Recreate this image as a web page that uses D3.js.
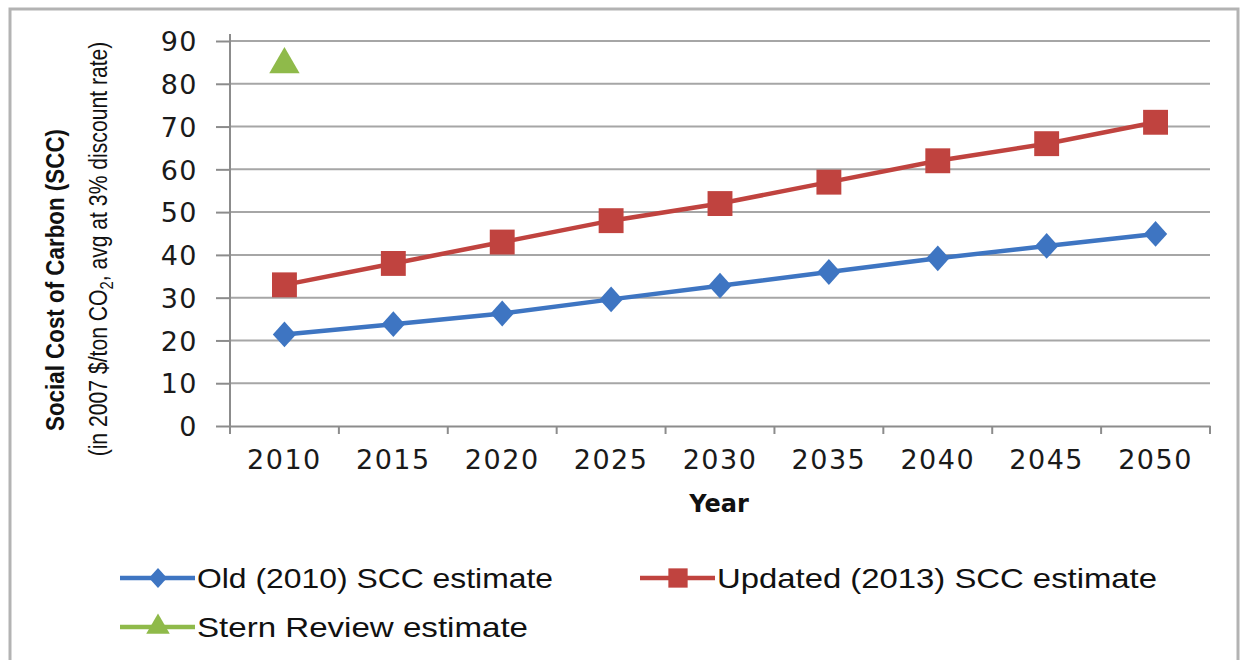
<!DOCTYPE html>
<meta charset="utf-8">
<style>
    body { margin: 0; background: #fff; }
    .grid line { stroke: #a6a6a6; stroke-width: 2; }
    .axis path, .axis line { stroke: #8c8c8c; stroke-width: 2; }
    .axis text { font-family: "DejaVu Sans", Verdana, sans-serif; font-size: 27px; letter-spacing: 1.5px; fill: #1a1a1a; }
    .ttl { font-family: "Liberation Sans", sans-serif; fill: #111; }
    .legend text { font-family: "Liberation Sans", sans-serif; font-size: 28px; fill: #111; }
</style>

<svg width="1248" height="660"></svg>

<script src="https://d3js.org/d3.v7.min.js"></script>
<script>
var years = [2010, 2015, 2020, 2025, 2030, 2035, 2040, 2045, 2050];
var oldScc = [21.4, 23.8, 26.3, 29.6, 32.8, 36.0, 39.2, 42.1, 44.9];
var newScc = [33, 38, 43, 48, 52, 57, 62, 66, 71];
var stern = [84.5];
var yTicks = [0, 10, 20, 30, 40, 50, 60, 70, 80, 90];
var seriesNames = ["Old (2010) SCC estimate", "Updated (2013) SCC estimate", "Stern Review estimate"];

var svg = d3.select("svg");

// outer frame
svg.append("rect").attr("x", 10).attr("y", 9).attr("width", 1228).attr("height", 700)
    .attr("fill", "none").attr("stroke", "#b3b3b3").attr("stroke-width", 3);

var x = d3.scaleBand().domain(years).range([230, 1210]);
var y = d3.scaleLinear().domain([0, 90]).range([426, 41]);

svg.append("g").attr("class", "grid")
    .selectAll("line").data(yTicks.slice(1)).enter().append("line")
    .attr("x1", 230).attr("x2", 1210)
    .attr("y1", function(d) { return y(d); }).attr("y2", function(d) { return y(d); });

var ya = svg.append("g").attr("class", "axis")
    .attr("transform", "translate(230,0)")
    .call(d3.axisLeft(y).tickValues(yTicks).tickSize(14).tickSizeOuter(0).tickPadding(18));
ya.selectAll("text").attr("dy", "0.36em");
ya.select(".domain").attr("d", "M0,426V34");

var xa = svg.append("g").attr("class", "axis")
    .attr("transform", "translate(0,426)")
    .call(d3.axisBottom(x).tickSize(0).tickPadding(24));
// ticks at band boundaries
xa.selectAll(".bnd").data(years.concat([null])).enter().append("line")
    .attr("x1", function(d, i) { return 230 + i * x.step(); })
    .attr("x2", function(d, i) { return 230 + i * x.step(); })
    .attr("y1", 0).attr("y2", 8)
    .attr("stroke", "#8c8c8c").attr("stroke-width", 2);

svg.append("text").attr("x", 719).attr("y", 512)
    .attr("text-anchor", "middle")
    .style("font-family", "'DejaVu Sans', Verdana, sans-serif")
    .attr("font-weight", "bold").attr("font-size", 24).attr("fill", "#111").text("Year");

// y title
var yt = svg.append("g").attr("transform", "rotate(-90)");
yt.append("text").attr("class", "ttl").attr("x", -280).attr("y", 64).attr("text-anchor", "middle")
    .attr("font-weight", "bold").attr("font-size", 26)
    .attr("textLength", 302).attr("lengthAdjust", "spacingAndGlyphs")
    .text("Social Cost of Carbon (SCC)");
var t2 = yt.append("text").attr("class", "ttl").attr("x", -249).attr("y", 107).attr("text-anchor", "middle")
    .attr("font-size", 26);
t2.append("tspan").text("(in 2007 $/ton CO");
t2.append("tspan").attr("font-size", 18).attr("dy", 6).text("2");
t2.append("tspan").attr("dy", -6).text(", avg at 3% discount rate)");
// condense second line to the reference width
var w2 = t2.node().getComputedTextLength();
t2.attr("transform", "translate(-249,0) scale(" + (415 / w2) + ",1) translate(249,0)");

var colors = ["#3e75c2", "#c0433f", "#8fba4a"];
var symbols = [d3.symbolDiamond, d3.symbolSquare, d3.symbolTriangle];
var sizes = [300, 620, 400];
var cx = function(i) { return x(years[i]) + x.bandwidth() / 2; };
var line = d3.line().x(function(d, i) { return cx(i); }).y(function(d) { return y(d); });

[oldScc, newScc, stern].forEach(function(vals, s) {
    svg.append("path").datum(vals).attr("d", line).attr("fill", "none")
        .attr("stroke", colors[s]).attr("stroke-width", 4.5);
    svg.selectAll(".m" + s).data(vals).enter().append("path")
        .attr("d", d3.symbol().type(symbols[s]).size(sizes[s]))
        .attr("transform", function(d, i) {
            return "translate(" + cx(i) + "," + y(d) + ")" + (s === 0 ? " scale(1.25,0.8)" : "");
        })
        .attr("fill", colors[s]);
});

// legend
var leg = svg.append("g").attr("class", "legend");
var legPos = [[120, 578], [640, 578], [120, 627]];
var legW = [356, 440, 331];
seriesNames.forEach(function(n, s) {
    var g = leg.append("g").attr("transform", "translate(" + legPos[s][0] + "," + legPos[s][1] + ")");
    g.append("line").attr("x1", 0).attr("x2", 75).attr("stroke", colors[s]).attr("stroke-width", 4.5);
    g.append("path").attr("d", d3.symbol().type(symbols[s]).size(sizes[s] * 0.6))
        .attr("transform", "translate(38,0)" + (s === 0 ? " scale(1.25,0.8)" : ""))
        .attr("fill", colors[s]);
    g.append("text").attr("x", 77).attr("dy", "0.35em")
        .attr("textLength", legW[s]).attr("lengthAdjust", "spacingAndGlyphs").text(n);
});
</script>
